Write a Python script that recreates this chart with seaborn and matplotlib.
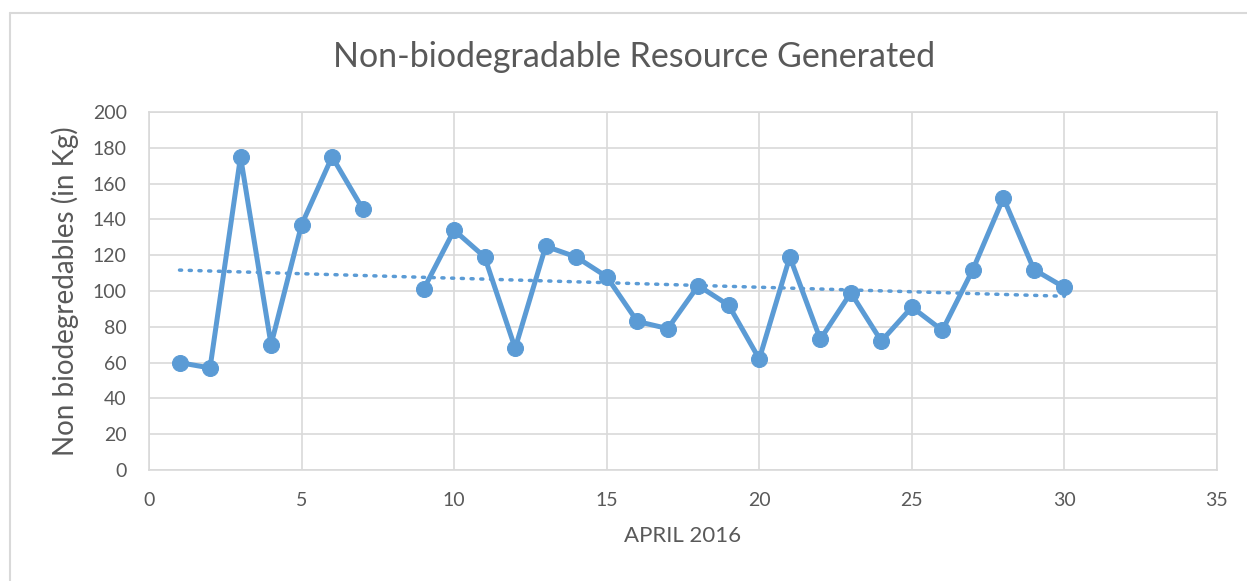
import matplotlib
matplotlib.use("Agg")
import matplotlib.pyplot as plt
from matplotlib.lines import Line2D
import seaborn as sns
import numpy as np
import pandas as pd

sns.set_style("white")
plt.rcParams['font.family'] = ['Lato', 'DejaVu Sans']

# data (day 8 missing)
days = [1, 2, 3, 4, 5, 6, 7, 8, 9, 10, 11, 12, 13, 14, 15,
        16, 17, 18, 19, 20, 21, 22, 23, 24, 25, 26, 27, 28, 29, 30]
kg = [60, 57, 175, 70, 137, 175, 146, np.nan, 101, 134, 119, 68, 125, 119, 108,
      83, 79, 103, 92, 62, 119, 73, 99, 72, 91, 78, 112, 152, 112, 102]

title = "Non-biodegradable Resource Generated"
xlabel = "APRIL 2016"
ylabel = "Non biodegredables (in Kg)"

blue = "#5B9BD5"
text_gray = "#595959"
grid_gray = "#d9d9d9"

df = pd.DataFrame({"day": days, "kg": kg})
# split into segments where the value is missing so the line breaks
df["segment"] = df["kg"].isna().cumsum()
pts = df.dropna()

fig = plt.figure(figsize=(12.47, 5.81), dpi=100)
ax = fig.add_axes([149 / 1247, 1 - 470 / 581, (1217 - 149) / 1247, (470 - 112) / 581])

sns.lineplot(data=pts, x="day", y="kg", units="segment", estimator=None,
             color=blue, lw=3.6, marker="o", markersize=11.5,
             markeredgecolor=blue, ax=ax)

# linear trendline
sns.regplot(data=pts, x="day", y="kg", scatter=False, ci=None, ax=ax,
            line_kws=dict(color=blue, lw=2.5, linestyle=(0, (0.6, 2.2)),
                          dash_capstyle="round"))

ax.set_xlim(0, 35)
ax.set_ylim(0, 200)
ax.set_xticks(range(0, 36, 5))
ax.set_yticks(range(0, 201, 20))
ax.grid(True, color=grid_gray, lw=1.2)
ax.set_axisbelow(True)
for s in ax.spines.values():
    s.set_color(grid_gray)
    s.set_linewidth(1.2)
ax.tick_params(colors=text_gray, labelsize=14, length=0)
ax.tick_params(axis="x", pad=16)
ax.tick_params(axis="y", pad=16)

ax.set_xlabel(xlabel, color=text_gray, fontsize=16, labelpad=12)
ax.set_ylabel(ylabel, color=text_gray, fontsize=20, labelpad=10)
fig.text(634 / 1247, 1 - 57 / 581, title, color=text_gray, fontsize=24.5,
         ha="center", va="center")

# chart area border (left and top visible)
fig.add_artist(Line2D([10 / 1247, 10 / 1247], [0, 1 - 13 / 581],
                      transform=fig.transFigure, color=grid_gray, lw=1.5))
fig.add_artist(Line2D([10 / 1247, 1], [1 - 13 / 581, 1 - 13 / 581],
                      transform=fig.transFigure, color=grid_gray, lw=1.5))

fig.savefig("out.png", dpi=100)
